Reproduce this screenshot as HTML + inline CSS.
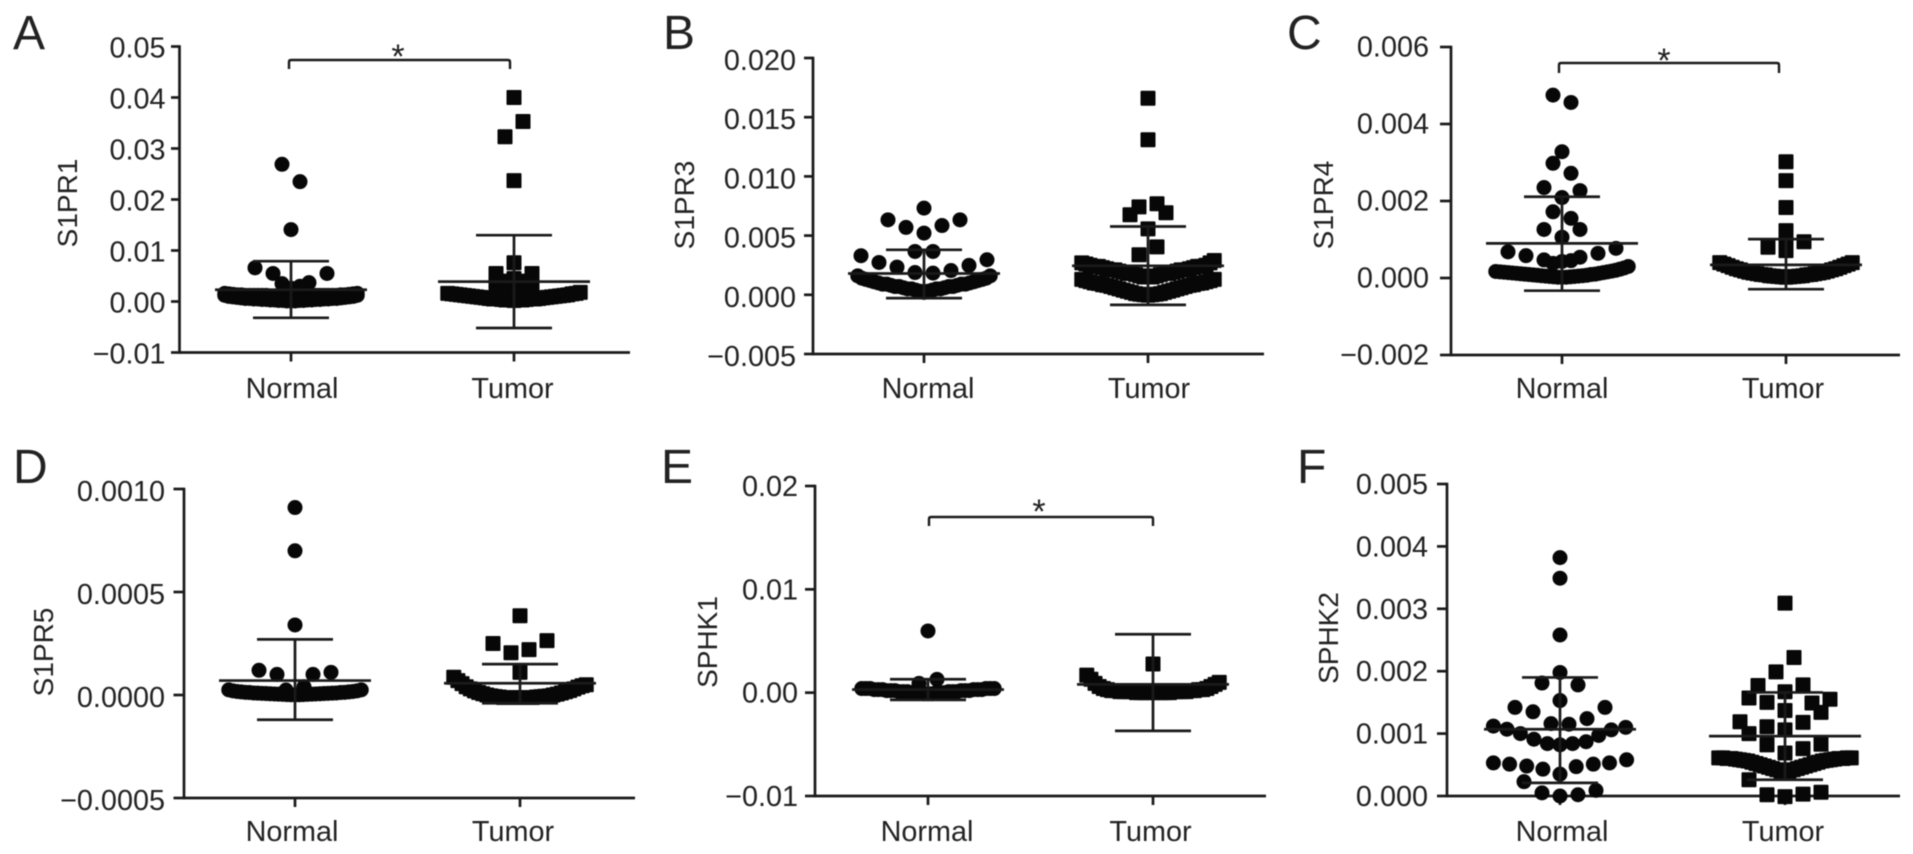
<!DOCTYPE html>
<html lang="en">
<head>
<meta charset="utf-8">
<title>S1PR and SPHK expression in normal and tumor tissue</title>
<style>
  html, body { margin: 0; padding: 0; background: #fff; }
  #figure { display: block; width: 1913px; height: 854px; filter: blur(0.4px); }
  text { font-family: "Liberation Sans", Arial, sans-serif; fill: #222; }
</style>
</head>
<body>
<svg id="figure" xmlns="http://www.w3.org/2000/svg" width="1913" height="854" viewBox="0 0 1913 854"></svg>
<script>
const categories = ['Normal', 'Tumor'];
const bandSlots = [-7.36,-6.9,-6.44,-5.98,-5.52,-5.06,-4.6,-4.14,-3.68,-3.22,-2.76,-2.3,-1.84,-1.38,-0.92,-0.46,0,0.46,0.92,1.38,1.84,2.3,2.76,3.22,3.68,4.14,4.6,5.06,5.52,5.98,6.44,6.9,7.36];

/* Panel A — S1PR1 */
const aTicks = [-0.01, 0, 0.01, 0.02, 0.03, 0.04, 0.05];
const aTickLabels = ['\u22120.01', '0.00', '0.01', '0.02', '0.03', '0.04', '0.05'];
const aMeans = [0.0023, 0.0039];
const aUpper = [0.0079, 0.013];
const aLower = [-0.0032, -0.0052];
const aNormalValues = [0.0269,0.0235,0.0141,0.0066,0.0055,0.0055,0.0037,0.0035,0.003,0.0026];
const aNormalSlots = [-1,1,0,-4,-2,4,2,-1,1,0];
const aNormalBandUpper = [0.0016,0.0015,0.0014,0.0013,0.0013,0.0012,0.0012,0.0012,0.0012,0.0012,0.0012,0.0011,0.0011,0.0011,0.0011,0.001,0.001,0.001,0.0011,0.0011,0.0011,0.0011,0.0012,0.0012,0.0012,0.0012,0.0012,0.0012,0.0013,0.0013,0.0014,0.0015,0.0016];
const aNormalBandLower = [0.0012,0.001,0.0009,0.0008,0.0007,0.0006,0.0006,0.0005,0.0005,0.0004,0.0004,0.0003,0.0003,0.0002,0.0002,0.0001,0.0001,0.0001,0.0002,0.0002,0.0003,0.0003,0.0004,0.0004,0.0005,0.0005,0.0006,0.0006,0.0007,0.0008,0.0009,0.001,0.0012];
const aTumorValues = [0.04,0.0353,0.0323,0.0237,0.0076,0.0055,0.0055,0.0045,0.0045,0.0045,0.004,0.004,0.0035,0.0035,0.003,0.003,0.003,0.0025,0.0025];
const aTumorSlots = [0,1,-1,0,0,-2,2,-2,2,0,-1,1,-2,2,-1,1,0,-2,2];
const aTumorBand = [0.0016,0.0015,0.0014,0.0013,0.0012,0.0011,0.001,0.0009,0.0008,0.0007,0.0006,0.0005,0.0005,0.0004,0.0003,0.0003,0.0002,0.0003,0.0003,0.0004,0.0005,0.0005,0.0006,0.0007,0.0008,0.0009,0.001,0.0011,0.0012,0.0013,0.0015,0.0016,0.0018];

/* Panel B — S1PR3 */
const bTicks = [-0.005, 0, 0.005, 0.01, 0.015, 0.02];
const bTickLabels = ['\u22120.005', '0.000', '0.005', '0.010', '0.015', '0.020'];
const bMeans = [0.0018, 0.00245];
const bUpper = [0.0038, 0.00577];
const bLower = [-0.00028, -0.00085];
const bNormalValues = [0.00732,0.00633,0.00633,0.00569,0.00585,0.00521,0.00366,0.00366,0.0033,0.00273,0.00234,0.00188,0.00183,0.00205,0.00248,0.00296];
const bNormalSlots = [0,-4,4,-2,2,0,-1,1,-7,-5,-3,-1,1,3,5,7];
const bNormalBand = [0.0016,0.0014,0.0013,0.0012,0.0011,0.001,0.0009,0.0009,0.0008,0.0007,0.0007,0.0006,0.0005,0.0005,0.0004,0.0003,0.0002,0.0003,0.0004,0.0005,0.0005,0.0006,0.0007,0.0007,0.0008,0.0009,0.0009,0.001,0.0011,0.0012,0.0013,0.0014,0.0016];
const bTumorValues = [0.0166,0.0131,0.00676,0.00743,0.00769,0.00693,0.00557,0.00405,0.00338];
const bTumorSlots = [0,0,-2,-1,1,2,0,1,-1];
const bTumorBandUpper = [0.0027,0.0026,0.0025,0.0024,0.0024,0.0023,0.0022,0.0021,0.0021,0.002,0.0019,0.0018,0.0018,0.0017,0.0016,0.0015,0.0015,0.0015,0.0016,0.0017,0.0018,0.0018,0.0019,0.002,0.0021,0.0021,0.0022,0.0023,0.0024,0.0024,0.0025,0.0027,0.0029];
const bTumorBandLower = [0.0013,0.0012,0.0011,0.001,0.00095,0.00085,0.0008,0.0007,0.0006,0.0005,0.0004,0.0003,0.0002,0.0001,0.00005,0,-0.00004,0,0.00005,0.0001,0.0002,0.0003,0.0004,0.0005,0.0006,0.0007,0.0008,0.00085,0.00095,0.001,0.0011,0.0012,0.0013];

/* Panel C — S1PR4 */
const cTicks = [-0.002, 0, 0.002, 0.004, 0.006];
const cTickLabels = ['\u22120.002', '0.000', '0.002', '0.004', '0.006'];
const cMeans = [0.0009, 0.00034];
const cUpper = [0.00211, 0.00101];
const cLower = [-0.00033, -0.00029];
const cNormalValues = [0.00475,0.00456,0.00328,0.00298,0.00272,0.00235,0.00227,0.00209,0.00172,0.00155,0.00126,0.00126,0.00106,0.00068,0.00058,0.00047,0.00038,0.00043,0.00045,0.00054,0.00064,0.00077];
const cNormalSlots = [-1,1,0,-1,1,-2,2,0,-1,1,-2,2,0,-6,-4,-2,-1,0,1,2,4,6];
const cNormalBand = [0.00017,0.00016,0.00015,0.00014,0.00013,0.00012,0.00011,0.0001,0.00009,0.00008,0.00007,0.00006,0.00005,0.00004,0.00003,0.00002,0.00002,0.00002,0.00003,0.00004,0.00005,0.00006,0.00007,0.00009,0.0001,0.00012,0.00014,0.00016,0.00018,0.0002,0.00023,0.00026,0.0003];
const cTumorValues = [0.00302,0.00253,0.00183,0.00123,0.00105,0.00094,0.0008,0.00071];
const cTumorSlots = [0,0,0,0,0,2,-2,0];
const cTumorBand = [0.0004,0.00036,0.00032,0.00028,0.00024,0.00021,0.00018,0.00015,0.00013,0.00011,0.00009,0.00008,0.00006,0.00005,0.00004,0.00003,0.00002,0.00003,0.00004,0.00005,0.00006,0.00008,0.00009,0.00011,0.00013,0.00015,0.00018,0.00021,0.00024,0.00028,0.00032,0.00036,0.0004];

/* Panel D — S1PR5 */
const dTicks = [-0.0005, 0, 0.0005, 0.001];
const dTickLabels = ['\u22120.0005', '0.0000', '0.0005', '0.0010'];
const dMeans = [0.00007, 0.000057];
const dUpper = [0.00027, 0.00015];
const dLower = [-0.00012, -0.00004];
const dNormalValues = [0.00091,0.0007,0.00034,0.00012,0.0001,0.0001,0.00011,0.000024,0.00004];
const dNormalSlots = [0,0,0,-4,-2,2,4,-1,1];
const dNormalBand = [0.000025,0.00002,0.000017,0.000015,0.000013,0.000012,0.00001,0.000009,0.000008,0.000007,0.000006,0.000005,0.000004,0.000003,0.000002,0.000001,0.000001,0.000001,0.000002,0.000003,0.000004,0.000005,0.000006,0.000007,0.000008,0.000009,0.00001,0.000012,0.000013,0.000015,0.000017,0.00002,0.000025];
const dTumorValues = [0.000385,0.00025,0.000205,0.00022,0.000264,0.00011];
const dTumorSlots = [0,-3,-1,1,3,0];
const dTumorBand = [0.000086,0.00007,0.000055,0.00004,0.00003,0.00002,0.000012,0.000006,0,-0.000004,-0.000007,-0.00001,-0.000012,-0.000012,-0.000012,-0.000012,-0.000012,-0.000012,-0.000012,-0.000012,-0.00001,-0.000008,-0.000006,-0.000004,0,0.000004,0.00001,0.000016,0.000022,0.00003,0.000038,0.000045,0.00005];

/* Panel E — SPHK1 */
const eTicks = [-0.01, 0, 0.01, 0.02];
const eTickLabels = ['\u22120.01', '0.00', '0.01', '0.02'];
const eMeans = [0.0003, 0.0008];
const eUpper = [0.0013, 0.00565];
const eLower = [-0.0007, -0.0037];
const eNormalValues = [0.00597,0.00129,0.0009];
const eNormalSlots = [0,1,-1];
const eNormalBand = [0.0004,0.0004,0.0004,0.0003,0.0003,0.0003,0.0002,0.0002,0.0002,0.0001,0.0001,0.0001,0,0,0,-0.0001,-0.0001,-0.0001,0,0,0,0.0001,0.0001,0.0001,0.0002,0.0002,0.0002,0.0003,0.0003,0.0003,0.0004,0.0004,0.0004];
const eTumorValues = [0.00278];
const eTumorSlots = [0];
const eTumorBand = [0.0017,0.0013,0.0009,0.0006,0.0004,0.0003,0.0002,0.0002,0.0001,0.0001,0.0001,0.0001,0,0,0,0,0,0,0,0,0,0.0001,0.0001,0.0001,0.0001,0.0002,0.0002,0.0003,0.0003,0.0004,0.0006,0.0008,0.001];

/* Panel F — SPHK2 */
const fTicks = [0, 0.001, 0.002, 0.003, 0.004, 0.005];
const fTickLabels = ['0.000', '0.001', '0.002', '0.003', '0.004', '0.005'];
const fMeans = [0.00107, 0.00096];
const fUpper = [0.0019, 0.00166];
const fLower = [0.00021, 0.00026];
const fNormalValues = [0.00382,0.00349,0.00258,0.00198,0.00181,0.00178,0.00153,0.00142,0.00135,0.00142,0.00124,0.00116,0.00115,0.00112,0.00107,0.001,0.00091,0.00084,0.00082,0.00084,0.00087,0.00097,0.00106,0.0011,0.00053,0.00051,0.00048,0.00043,0.00035,0.00047,0.00051,0.00053,0.00058,0.00023,0.00005,0,0.00002,0.00009];
const fNormalSlots = [0,0,0,0,-2,2,0,-5,-3,5,3,-1,1,-7.4,-5.9,-4.4,-2.9,-1.4,0,1.4,2.9,4.3,5.7,7.3,-7.4,-5.6,-3.7,-1.9,0,1.8,3.7,5.5,7.4,-4,-2,0,2,4];
const fTumorValues = [0.00309,0.00222,0.00199,0.00177,0.00178,0.00167,0.00157,0.0015,0.00149,0.00155,0.00134,0.00137,0.00119,0.00111,0.00118,0.00106,0.001,0.00082,0.00083,0.00076,0.00069,0.00026,0.00002,-0.00001,0.00003,0.00006];
const fTumorSlots = [0,1,-1,-3,2,0,-4,-2,3,5,4,0,-5,-2,2,0,-4,-2,4,2,0,-4,-2,0,2,4];
const fTumorBand = [0.00061,0.00061,0.0006,0.0006,0.00059,0.00058,0.00057,0.00056,0.00054,0.00052,0.0005,0.00048,0.00046,0.00044,0.00042,0.0004,0.00037,0.0004,0.00042,0.00044,0.00046,0.00048,0.0005,0.00052,0.00054,0.00056,0.00057,0.00058,0.00059,0.0006,0.0006,0.00061,0.00061];

const SVG_NS = 'http://www.w3.org/2000/svg';
const INK = '#1a1a1a';
const MARK = '#070707';
const SLOT_WIDTH = 9;
const MARKER_RADIUS = 7.5;
const MARKER_SIDE = 15;
const MEAN_HALF = 76;
const CAP_HALF = 38;
const LABEL_SIZE = 28.8;

const panels = [
  { key: 'a', letter: 'A', title: 'S1PR1', ticks: aTicks, labels: aTickLabels, means: aMeans, upper: aUpper, lower: aLower,
    normal: { values: aNormalValues, slots: aNormalSlots, bands: [aNormalBandUpper, aNormalBandLower] },
    tumor: { values: aTumorValues, slots: aTumorSlots, bands: [aTumorBand] },
    frame: { axisX: 179.5, top: 46.5, bottom: 352.5, right: 630, x0: 291, x1: 514, labelY: 398, labelX0: 292, labelX1: 512.5, tickLen: 8.5, labelGap: 14, labelDy: 11 },
    letterPos: [13, 49], titlePos: [67, 203], bracket: [289, 510, 60, 69, 398, 49] },
  { key: 'b', letter: 'B', title: 'S1PR3', ticks: bTicks, labels: bTickLabels, means: bMeans, upper: bUpper, lower: bLower,
    normal: { values: bNormalValues, slots: bNormalSlots, bands: [bNormalBand] },
    tumor: { values: bTumorValues, slots: bTumorSlots, bands: [bTumorBandUpper, bTumorBandLower] },
    frame: { axisX: 813, top: 58, bottom: 354, right: 1264, x0: 924, x1: 1148, labelY: 398, labelX0: 928, labelX1: 1149, tickLen: 9, labelGap: 17, labelDy: 12 },
    letterPos: [663, 49], titlePos: [684, 205] },
  { key: 'c', letter: 'C', title: 'S1PR4', ticks: cTicks, labels: cTickLabels, means: cMeans, upper: cUpper, lower: cLower,
    normal: { values: cNormalValues, slots: cNormalSlots, bands: [cNormalBand] },
    tumor: { values: cTumorValues, slots: cTumorSlots, bands: [cTumorBand] },
    frame: { axisX: 1451, top: 47, bottom: 355, right: 1900, x0: 1562, x1: 1786, labelY: 398, labelX0: 1562, labelX1: 1783, tickLen: 11, labelGap: 22, labelDy: 9.5 },
    letterPos: [1287, 49], titlePos: [1323, 205], bracket: [1559, 1779, 63, 73, 1664, 53] },
  { key: 'd', letter: 'D', title: 'S1PR5', ticks: dTicks, labels: dTickLabels, means: dMeans, upper: dUpper, lower: dLower,
    normal: { values: dNormalValues, slots: dNormalSlots, bands: [dNormalBand] },
    tumor: { values: dTumorValues, slots: dTumorSlots, bands: [dTumorBand] },
    frame: { axisX: 184, top: 489, bottom: 798, right: 635, x0: 295, x1: 520, labelY: 841, labelX0: 292, labelX1: 513, tickLen: 10.5, labelGap: 19, labelDy: 12 },
    letterPos: [13, 483], titlePos: [43, 652] },
  { key: 'e', letter: 'E', title: 'SPHK1', ticks: eTicks, labels: eTickLabels, means: eMeans, upper: eUpper, lower: eLower,
    normal: { values: eNormalValues, slots: eNormalSlots, bands: [eNormalBand] },
    tumor: { values: eTumorValues, slots: eTumorSlots, bands: [eTumorBand] },
    frame: { axisX: 815, top: 486, bottom: 796, right: 1266, x0: 928, x1: 1153, labelY: 841, labelX0: 927, labelX1: 1150.5, tickLen: 10, labelGap: 17, labelDy: 10 },
    letterPos: [661, 483], titlePos: [707, 642], bracket: [929, 1153, 517, 526, 1039, 504] },
  { key: 'f', letter: 'F', title: 'SPHK2', ticks: fTicks, labels: fTickLabels, means: fMeans, upper: fUpper, lower: fLower,
    normal: { values: fNormalValues, slots: fNormalSlots, bands: [] },
    tumor: { values: fTumorValues, slots: fTumorSlots, bands: [fTumorBand] },
    frame: { axisX: 1447, top: 484, bottom: 796, right: 1900, x0: 1560, x1: 1785, labelY: 841, labelX0: 1562, labelX1: 1783, tickLen: 10, labelGap: 19, labelDy: 10 },
    letterPos: [1297, 483], titlePos: [1328, 638] }
];

const figure = document.getElementById('figure');

function makeLine(parent, x1, y1, x2, y2, width) {
  const l = document.createElementNS(SVG_NS, 'line');
  l.setAttribute('x1', x1);
  l.setAttribute('y1', y1);
  l.setAttribute('x2', x2);
  l.setAttribute('y2', y2);
  l.setAttribute('stroke', INK);
  l.setAttribute('stroke-width', width || 2.7);
  parent.appendChild(l);
  return l;
}

function makeText(parent, str, x, y, size, anchor) {
  const t = document.createElementNS(SVG_NS, 'text');
  t.setAttribute('x', x);
  t.setAttribute('y', y);
  t.setAttribute('font-size', size);
  t.setAttribute('text-anchor', anchor || 'middle');
  t.textContent = str;
  parent.appendChild(t);
  return t;
}

function makeMark(parent, isSquare, cx, cy) {
  let m;
  if (isSquare) {
    m = document.createElementNS(SVG_NS, 'rect');
    m.setAttribute('x', cx - MARKER_SIDE / 2);
    m.setAttribute('y', cy - MARKER_SIDE / 2);
    m.setAttribute('width', MARKER_SIDE);
    m.setAttribute('height', MARKER_SIDE);
    m.setAttribute('rx', 1);
  } else {
    m = document.createElementNS(SVG_NS, 'circle');
    m.setAttribute('cx', cx);
    m.setAttribute('cy', cy);
    m.setAttribute('r', MARKER_RADIUS);
  }
  m.setAttribute('fill', MARK);
  parent.appendChild(m);
  return m;
}

panels.forEach(function (p) {
  const f = p.frame;
  const lo = p.ticks[0];
  const hi = p.ticks[p.ticks.length - 1];
  const yScale = function (v) { return f.bottom - (v - lo) / (hi - lo) * (f.bottom - f.top); };
  const xCategory = [f.x0, f.x1];
  const xLabel = [f.labelX0, f.labelX1];
  const xSlot = function (i, slot) { return xCategory[i] + slot * SLOT_WIDTH; };

  const g = document.createElementNS(SVG_NS, 'g');
  
  
  figure.appendChild(g);

  const letter = makeText(g, p.letter, p.letterPos[0], p.letterPos[1], 48, 'start');
  
  

  const title = makeText(g, p.title, 0, 0, 28);
  title.setAttribute('transform', 'translate(' + (p.titlePos[0] + 10) + ',' + p.titlePos[1] + ') rotate(-90)');
  
  

  const yAxis = makeLine(g, f.axisX, f.top - 1.3, f.axisX, f.bottom + 1.3);
  
  

  const xAxis = makeLine(g, f.axisX, f.bottom, f.right, f.bottom);
  
  

  p.ticks.forEach(function (tick, i) {
    const y = yScale(tick);
    const mark = makeLine(g, f.axisX - f.tickLen, y, f.axisX, y);
    
    
    const label = makeText(g, p.labels[i], f.axisX - f.labelGap, y + f.labelDy, LABEL_SIZE, 'end');
    
    
  });

  categories.forEach(function (name, i) {
    const x = xCategory[i];
    const mark = makeLine(g, x, f.bottom, x, f.bottom + 9);
    
    
    const label = makeText(g, name, xLabel[i], f.labelY, LABEL_SIZE);
    
    

    const group = i === 0 ? p.normal : p.tumor;
    const isSquare = i === 1;

    group.bands.forEach(function (band) {
      band.forEach(function (v, k) {
        const point = makeMark(g, isSquare, xSlot(i, bandSlots[k]), yScale(v));
        
        
      });
    });
    group.values.forEach(function (v, k) {
      const point = makeMark(g, isSquare, xSlot(i, group.slots[k]), yScale(v));
      
      
    });

    const stem = makeLine(g, x, yScale(p.upper[i]), x, yScale(p.lower[i]));
    
    
    const upCap = makeLine(g, x - CAP_HALF, yScale(p.upper[i]), x + CAP_HALF, yScale(p.upper[i]));
    
    
    const lowCap = makeLine(g, x - CAP_HALF, yScale(p.lower[i]), x + CAP_HALF, yScale(p.lower[i]));
    
    
    const meanLine = makeLine(g, x - MEAN_HALF, yScale(p.means[i]), x + MEAN_HALF, yScale(p.means[i]));
    
    
  });

  if (p.bracket) {
    const b = p.bracket;
    const path = document.createElementNS(SVG_NS, 'path');
    path.setAttribute('d', 'M' + b[0] + ' ' + b[3] + ' V' + (b[2] + 2) + ' Q' + b[0] + ' ' + b[2] + ' ' + (b[0] + 2) + ' ' + b[2] +
      ' H' + (b[1] - 2) + ' Q' + b[1] + ' ' + b[2] + ' ' + b[1] + ' ' + (b[2] + 2) + ' V' + b[3]);
    path.setAttribute('fill', 'none');
    path.setAttribute('stroke', INK);
    path.setAttribute('stroke-width', 2.4);
    
    
    g.appendChild(path);
    const star = makeText(g, '*', b[4], b[5] + 19, 34);
    
    
  }
});
</script>
</body>
</html>
